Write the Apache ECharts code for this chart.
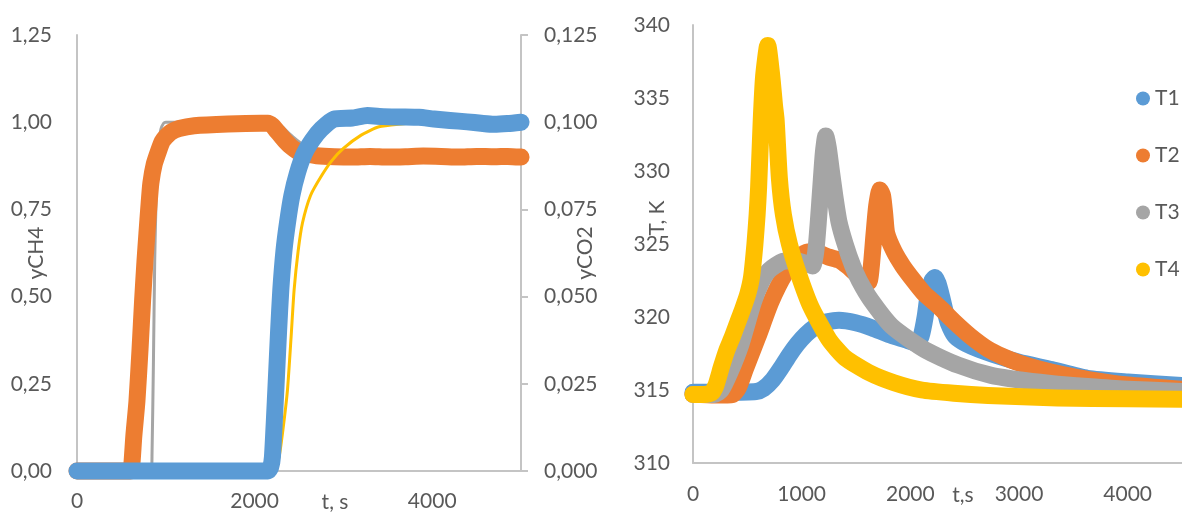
<!DOCTYPE html>
<html><head><meta charset="utf-8">
<script src="https://cdn.jsdelivr.net/npm/echarts@6/dist/echarts.min.js"></script>
<style>html,body{margin:0;padding:0;background:#fff}#c{width:1182px;height:512px}</style>
</head><body><div id="c"></div>
<script>
// ---------- Left chart data: t (s), value ----------
const yCH4_model = [[0,0],[835,0],[845,0.05],[860,0.3],[875,0.6],[885,0.72],[900,0.85],[920,0.94],[945,0.98],[975,0.997],[1000,1.0],[2200,1.0],[2260,0.998],[2320,0.985],[2400,0.965],[2470,0.95],[2520,0.94],[2600,0.92],[2700,0.905],[2800,0.9],[5000,0.9]];
const yCH4_exp = [[0,0],[600,0],[615,0.01],[640,0.1],[675,0.2],[710,0.35],[739,0.49],[765,0.6],[787,0.68],[810,0.76],[832,0.826],[870,0.88],[922,0.92],[960,0.945],[1000,0.958],[1060,0.972],[1150,0.982],[1320,0.99],[1700,0.995],[2070,0.997],[2150,0.997],[2200,0.99],[2250,0.975],[2300,0.96],[2350,0.945],[2410,0.93],[2480,0.917],[2560,0.91],[2700,0.904],[2900,0.901],[3100,0.9],[3300,0.902],[3500,0.9],[3700,0.901],[3900,0.903],[4100,0.902],[4300,0.9],[4500,0.902],[4700,0.901],[4850,0.902],[5000,0.9]];
const yCO2_model = [[0,0],[2180,0],[2230,0.001],[2276,0.0041],[2320,0.012],[2370,0.0232],[2410,0.038],[2445,0.0519],[2490,0.063],[2539,0.0711],[2630,0.079],[2750,0.0845],[2870,0.089],[3000,0.0925],[3200,0.0963],[3400,0.0987],[3650,0.0995],[3900,0.1],[5000,0.1]];
const yCO2_exp = [[0,0],[2150,0],[2180,0.001],[2201,0.0041],[2239,0.0232],[2270,0.04],[2295,0.0519],[2330,0.063],[2370,0.0711],[2420,0.079],[2482,0.0854],[2560,0.091],[2651,0.0949],[2750,0.098],[2895,0.1009],[3100,0.1012],[3270,0.1019],[3450,0.1016],[3645,0.1015],[3850,0.1014],[4020,0.1009],[4200,0.1005],[4395,0.1001],[4550,0.0997],[4695,0.0994],[4850,0.0996],[5000,0.1]];

// ---------- Right chart data: t (s), T (K) ----------
const T1 = [[0,314.85],[300,314.85],[582,314.9],[650,315.1],[734,315.7],[810,316.5],[887,317.4],[960,318.15],[1039,318.8],[1110,319.25],[1191,319.6],[1344,319.77],[1496,319.6],[1648,319.25],[1801,318.8],[1953,318.45],[2060,318.2],[2100,318.7],[2136,320.0],[2166,321.6],[2200,322.5],[2227,322.7],[2255,322.3],[2288,321.4],[2320,320.4],[2349,319.6],[2410,318.7],[2480,318.3],[2562,318.0],[2680,317.65],[2806,317.33],[3000,316.9],[3300,316.4],[3629,315.8],[4000,315.55],[4500,315.3]];
const T2 = [[0,314.7],[200,314.65],[366,314.7],[420,315.2],[480,316.4],[600,318.7],[715,321.0],[850,323.0],[950,323.9],[1050,324.45],[1150,324.4],[1250,324.1],[1344,323.9],[1420,323.5],[1496,323.0],[1570,322.6],[1618,322.4],[1640,323.4],[1665,325.6],[1690,327.6],[1720,328.7],[1745,328.3],[1765,327.0],[1782,325.75],[1850,324.5],[1930,323.5],[2030,322.5],[2128,321.6],[2227,320.96],[2292,320.5],[2400,319.7],[2550,318.7],[2715,317.8],[2850,317.3],[3000,316.85],[3200,316.4],[3400,316.05],[3650,315.7],[4000,315.35],[4500,315.05]];
const T3 = [[0,314.7],[200,314.7],[260,315.0],[340,316.2],[440,318.1],[555,321.0],[630,322.4],[700,323.2],[825,323.8],[950,323.85],[1050,323.65],[1100,323.5],[1130,324.5],[1155,326.7],[1176,328.9],[1200,331.3],[1222,332.4],[1245,331.6],[1270,330.2],[1305,328.3],[1344,326.5],[1400,325.0],[1470,323.5],[1530,322.5],[1634,321.2],[1832,319.35],[2136,317.75],[2441,316.7],[2745,316.0],[3050,315.65],[3355,315.4],[3700,315.2],[4000,315.05],[4500,314.9]];
const T4 = [[0,314.7],[100,314.7],[170,314.8],[210,315.3],[262,316.6],[310,317.7],[360,318.6],[410,319.6],[460,320.6],[505,321.6],[540,322.8],[570,325.0],[590,327.0],[604,328.9],[628,333.5],[650,336.5],[688,338.6],[725,336.5],[750,334.5],[765,333.5],[795,329.5],[832,327.0],[887,325.0],[969,323.0],[1085,320.7],[1252,318.45],[1400,317.2],[1618,316.2],[1850,315.5],[2105,315.0],[2400,314.78],[2715,314.63],[3355,314.45],[4000,314.4],[4500,314.37]];

const legendNames = ['T1','T2','T3','T4'];

const COL = {blue:'#5B9BD5', orange:'#ED7D31', gray:'#A5A5A5', yellow:'#FFC000'};
const FONT = 'Lato';
const TXT = '#595959';
const AX = '#C4C4C4';

function comma(v, d){ return v.toFixed(d).replace('.', ','); }
function mk(name, data, color, xi, yi, w){
  return {name, type:'line', xAxisIndex:xi, yAxisIndex:yi, data, showSymbol:false, symbol:'none',
    smooth:0.2, clip:false, animation:false,
    itemStyle:{color}, lineStyle:{color, width:w, cap:'round', join:'round'}};
}
const lab = {fontFamily:FONT, fontSize:21, color:TXT};

const chart = echarts.init(document.getElementById('c'));
chart.setOption({
  animation:false,
  backgroundColor:'#fff',
  grid:[
    {left:77, top:35, width:444, height:436},
    {left:693, top:25, width:492, height:438}
  ],
  xAxis:[
    {gridIndex:0, type:'value', min:0, max:5000, interval:2000,
     axisLine:{show:true, lineStyle:{color:AX, width:2}}, axisTick:{show:false}, splitLine:{show:false},
     axisLabel:Object.assign({margin:20, showMaxLabel:false, formatter:v=>String(v)}, lab)},
    {gridIndex:1, type:'value', min:0, max:4500, interval:1000,
     axisLine:{show:true, lineStyle:{color:AX, width:2}}, axisTick:{show:false}, splitLine:{show:false},
     axisLabel:Object.assign({margin:21, showMaxLabel:false, formatter:v=>String(v)}, lab)}
  ],
  yAxis:[
    {gridIndex:0, type:'value', position:'left', min:0, max:1.25, interval:0.25,
     axisLine:{show:true, lineStyle:{color:AX, width:2}}, axisTick:{show:false}, splitLine:{show:false},
     axisLabel:Object.assign({margin:25, formatter:v=>comma(v,2)}, lab)},
    {gridIndex:0, type:'value', position:'right', min:0, max:0.125, interval:0.025,
     axisLine:{show:true, lineStyle:{color:AX, width:2}}, axisTick:{show:true, length:7, lineStyle:{color:AX, width:2}}, splitLine:{show:false},
     axisLabel:Object.assign({margin:23, formatter:v=>comma(v,3)}, lab)},
    {gridIndex:1, type:'value', min:310, max:340, interval:5,
     axisLine:{show:true, lineStyle:{color:AX, width:2}}, axisTick:{show:false}, splitLine:{show:false},
     axisLabel:Object.assign({margin:23}, lab)}
  ],
  legend:{data:legendNames, orient:'vertical', left:1131, top:83, itemWidth:14, itemHeight:14, itemGap:36,
    icon:'circle', itemStyle:{borderWidth:0}, textStyle:lab},
  series:[
    mk('yCH4 model', yCH4_model, COL.gray, 0, 0, 3),
    mk('yCH4', yCH4_exp, COL.orange, 0, 0, 17),
    mk('yCO2 model', yCO2_model, COL.yellow, 0, 1, 3),
    mk('yCO2', yCO2_exp, COL.blue, 0, 1, 17),
    mk('T1', T1, COL.blue, 1, 2, 17),
    mk('T2', T2, COL.orange, 1, 2, 17),
    mk('T3', T3, COL.gray, 1, 2, 17),
    mk('T4', T4, COL.yellow, 1, 2, 17)
  ],
  graphic:[
    {type:'text', x:335, y:502, style:{text:'t, s', font:'21px Lato', fill:TXT, textAlign:'center', textVerticalAlign:'middle'}},
    {type:'text', x:963, y:495, style:{text:'t,s', font:'21px Lato', fill:TXT, textAlign:'center', textVerticalAlign:'middle'}},
    {type:'text', x:36, y:253, rotation:Math.PI/2, style:{text:'yCH4', font:'21px Lato', fill:TXT, textAlign:'center', textVerticalAlign:'middle'}},
    {type:'text', x:585, y:253, rotation:Math.PI/2, style:{text:'yCO2', font:'21px Lato', fill:TXT, textAlign:'center', textVerticalAlign:'middle'}},
    {type:'text', x:657, y:218, rotation:Math.PI/2, style:{text:'T, K', font:'21px Lato', fill:TXT, textAlign:'center', textVerticalAlign:'middle'}}
  ]
});
</script></body></html>
